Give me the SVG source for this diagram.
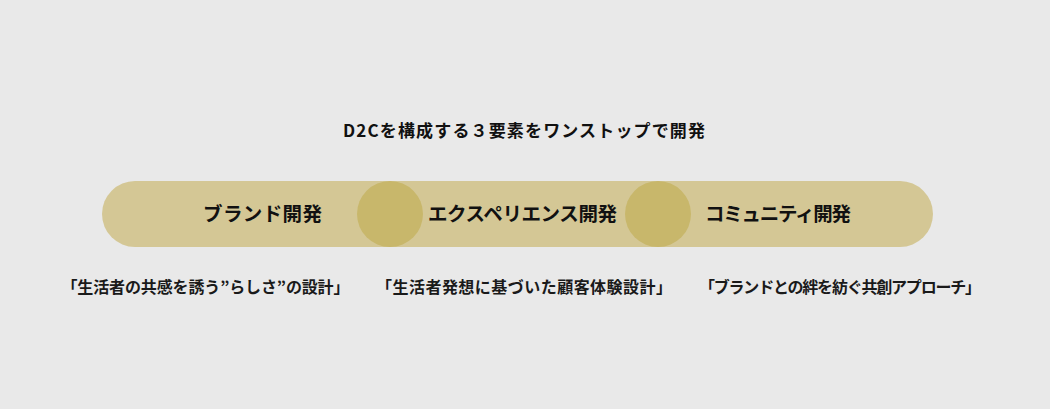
<svg xmlns="http://www.w3.org/2000/svg" width="1050" height="409" viewBox="0 0 1050 409">
<style>
text{font-family:"Noto Sans CJK JP","Noto Sans",sans-serif;font-weight:bold;fill:#111;text-anchor:middle}
.t{font-size:17px}
.n{font-size:19.5px}
.s{font-size:16px;fill:#1a1a1a}
.c{fill:#c8b76b}
</style>
<rect width="1050" height="409" fill="#e9e9e9"/>
<text class="t" x="524" y="137" textLength="362" lengthAdjust="spacing">D2Cを構成する３要素をワンストップで開発</text>
<rect x="102" y="181" width="831" height="66" rx="33" fill="#d4c795"/>
<g id="connectors">
<circle class="c" cx="390" cy="214" r="33"/>
<circle class="c" cx="658" cy="214" r="33"/>
</g>
<g id="brand">
<text class="n" x="262.5" y="221" textLength="119" lengthAdjust="spacing">ブランド開発</text>
<text class="s" x="205.5" y="293" textLength="288" lengthAdjust="spacing">「生活者の共感を誘う”らしさ”の設計」</text>
</g>
<g id="experience">
<text class="n" x="522.5" y="221" textLength="189" lengthAdjust="spacing">エクスペリエンス開発</text>
<text class="s" x="524" y="293" textLength="296" lengthAdjust="spacing">「生活者発想に基づいた顧客体験設計」</text>
</g>
<g id="community">
<text class="n" x="778" y="221" textLength="146" lengthAdjust="spacing">コミュニティ開発</text>
<text class="s" x="840" y="293" textLength="282" lengthAdjust="spacing">「ブランドとの絆を紡ぐ共創アプローチ」</text>
</g>
</svg>
